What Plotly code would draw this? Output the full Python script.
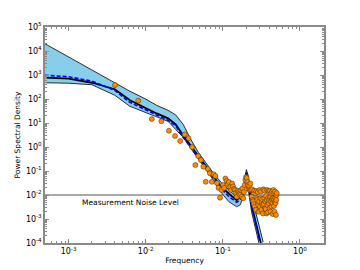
import numpy as np
import plotly.graph_objects as go

# ---- model curves (frequency grid and PSD values) ----
curve_freq = [4.9e-4, 0.001, 0.00201, 0.00397, 0.00625, 0.00985, 0.01387, 0.0195,
              0.0245, 0.0307, 0.0385, 0.0483, 0.0607, 0.0762, 0.0957, 0.120, 0.151,
              0.169, 0.189, 0.202, 0.212, 0.237, 0.266, 0.298, 0.333]
psd_upper = [20400, 5560, 1590, 454, 210, 102, 54.5, 33.7, 21.8, 8.7, 2.06, 0.589,
             0.204, 0.0778, 0.0327, 0.0167, 0.00809, 0.0113, 0.0297, 0.1146, 0.0706,
             0.00849, 0.0022, 0.000472, 0.000111]
psd_lower = [476, 454, 393, 143, 49.5, 27.8, 18.0, 11.7, 5.4, 2.5, 0.865, 0.330,
             0.1146, 0.0396, 0.0125, 0.00525, 0.00324, 0.00393, 0.0125, 0.0583, 0.0222,
             0.00182, 0.000389, 6.9e-5, 1.78e-5]
psd_median = [785, 700, 476, 255, 88, 41, 25, 15.6, 8.7, 3.0, 1.16, 0.44, 0.153,
              0.058, 0.0222, 0.0113, 0.00618, 0.00849, 0.0222, 0.0857, 0.0396,
              0.00357, 0.000841, 0.000163, 3.85e-5]
psd_mean = [981, 849, 551, 231, 72.8, 35.3, 21.8, 12.9, 7.6, 2.5, 0.953, 0.364,
            0.126, 0.048, 0.0184, 0.0085, 0.0050, 0.00636, 0.0167, 0.0778, 0.0327,
            0.00294, 0.000693, 0.000122, 2.88e-5]

# ---- periodogram points ----
obs_freq = [0.004, 0.008, 0.012, 0.016, 0.020, 0.024, 0.028, 0.032, 0.036, 0.040,
            0.044, 0.048, 0.052, 0.056, 0.060, 0.064, 0.068, 0.072, 0.076, 0.080,
            0.084, 0.088, 0.092, 0.096, 0.100, 0.104, 0.108, 0.112, 0.116, 0.120,
            0.124, 0.128, 0.132, 0.136, 0.140, 0.144, 0.148, 0.152, 0.156, 0.160,
            0.164, 0.168, 0.172, 0.176, 0.180, 0.184, 0.188, 0.192, 0.196, 0.200,
            0.204, 0.208, 0.212, 0.216, 0.220, 0.224, 0.228, 0.232, 0.236, 0.240,
            0.244, 0.248, 0.252, 0.256, 0.260, 0.264, 0.268, 0.272, 0.276, 0.280,
            0.284, 0.288, 0.292, 0.296, 0.300, 0.304, 0.308, 0.312, 0.316, 0.320,
            0.324, 0.328, 0.332, 0.336, 0.340, 0.344, 0.348, 0.352, 0.356, 0.360,
            0.364, 0.368, 0.372, 0.376, 0.380, 0.384, 0.388, 0.392, 0.396, 0.400,
            0.404, 0.408, 0.412, 0.416, 0.420, 0.424, 0.428, 0.432, 0.436, 0.440,
            0.444, 0.448, 0.452, 0.456, 0.460, 0.464, 0.468, 0.472, 0.476, 0.480,
            0.484, 0.488, 0.492, 0.496, 0.500]
obs_psd = [383, 85, 14.7, 11.8, 4.73, 2.87, 1.78, 3.32, 2.30, 1.0,
           0.178, 0.42, 0.287, 0.151, 0.0355, 0.121, 0.080, 0.0355, 0.073, 0.062,
           0.0316, 0.0196, 0.0077, 0.0162, 0.0261, 0.0196, 0.0487, 0.0383, 0.0287, 0.0348,
           0.0215, 0.0162, 0.030, 0.0226, 0.0178, 0.0162, 0.0121, 0.0085, 0.0151, 0.0133,
           0.011, 0.010, 0.0162, 0.0085, 0.0187, 0.0073, 0.0133, 0.0261, 0.0422, 0.0562,
           0.0511, 0.0348, 0.0261, 0.0178, 0.0237, 0.0162, 0.030, 0.0162, 0.0085, 0.0172,
           0.0062, 0.0054, 0.0041, 0.0151, 0.0033, 0.0118, 0.0024, 0.0147, 0.0073, 0.0062,
           0.0133, 0.0038, 0.0020, 0.0054, 0.0162, 0.0033, 0.0073, 0.0140, 0.0024, 0.0050,
           0.0067, 0.0038, 0.0017, 0.0172, 0.0042, 0.0073, 0.0151, 0.0028, 0.0054, 0.0026,
           0.0091, 0.0017, 0.0062, 0.0162, 0.0038, 0.0019, 0.0073, 0.0147, 0.0046, 0.0062,
           0.0028, 0.0151, 0.0083, 0.0020, 0.0054, 0.0118, 0.0033, 0.0068, 0.0140, 0.0046,
           0.0016, 0.0073, 0.0162, 0.0062, 0.0035, 0.0118, 0.0020, 0.0051, 0.0140, 0.0075,
           0.0046, 0.00147, 0.0062, 0.0100, 0.0121]

noise_level = 0.01
noise_x = [4.0e-4, 2.5]
noise_label = "Measurement Noise Level"
noise_label_pos = (0.0063, 0.0051)

x_tickvals = [1e-3, 1e-2, 1e-1, 1e0]
x_ticktext = ["10<sup>-3</sup>", "10<sup>-2</sup>", "10<sup>-1</sup>", "10<sup>0</sup>"]
y_tickvals = [1e-4, 1e-3, 1e-2, 1e-1, 1e0, 1e1, 1e2, 1e3, 1e4, 1e5]
y_ticktext = ["10<sup>-4</sup>", "10<sup>-3</sup>", "10<sup>-2</sup>", "10<sup>-1</sup>",
              "10<sup>0</sup>", "10<sup>1</sup>", "10<sup>2</sup>", "10<sup>3</sup>",
              "10<sup>4</sup>", "10<sup>5</sup>"]

x_range = (4.95e-4, 2.05)
y_range = (1e-4, 1e5)

FONT = "DejaVu Sans"
AXCOL = "#8a8a8a"

fig = go.Figure()

fig.add_trace(go.Scatter(x=noise_x, y=[noise_level, noise_level], mode="lines",
                         line=dict(color="#8c8c8c", width=1.6), showlegend=False,
                         hoverinfo="skip"))

fig.add_trace(go.Scatter(x=curve_freq, y=psd_lower, mode="lines",
                         line=dict(color="black", width=0.8), showlegend=False))
fig.add_trace(go.Scatter(x=curve_freq, y=psd_upper, mode="lines", fill="tonexty",
                         fillcolor="#87ceeb",
                         line=dict(color="black", width=0.8), showlegend=False))
fig.add_trace(go.Scatter(x=curve_freq, y=psd_median, mode="lines",
                         line=dict(color="black", width=1.8), showlegend=False))
fig.add_trace(go.Scatter(x=curve_freq, y=psd_mean, mode="lines",
                         line=dict(color="#0000ff", width=1.6, dash="4px,2px"),
                         showlegend=False))

fig.add_trace(go.Scatter(x=obs_freq, y=obs_psd, mode="markers",
                         marker=dict(color="#ff8c00", size=5,
                                     line=dict(color="#3a2a10", width=0.5)),
                         showlegend=False))

fig.add_annotation(x=np.log10(noise_label_pos[0]), y=np.log10(noise_label_pos[1]),
                   text=noise_label, showarrow=False, xanchor="center",
                   yanchor="middle", font=dict(family=FONT, size=7.5, color="black"))

axis_common = dict(type="log", showgrid=False, zeroline=False, showline=True,
                   linecolor=AXCOL, linewidth=1.5, mirror="ticks", ticks="inside",
                   ticklen=4, tickcolor=AXCOL, tickwidth=1, automargin=False,
                   tickfont=dict(family=FONT, size=8, color="black"),
                   minor=dict(ticks="inside", ticklen=2, tickcolor=AXCOL,
                              dtick="D1", showgrid=False))

fig.update_xaxes(**axis_common, range=[np.log10(x_range[0]), np.log10(x_range[1])],
                 tickmode="array", tickvals=x_tickvals, ticktext=x_ticktext,
                 title=dict(text="Frequency", standoff=2,
                            font=dict(family=FONT, size=7.5, color="black")))
fig.update_yaxes(**axis_common, range=[np.log10(y_range[0]), np.log10(y_range[1])],
                 tickmode="array", tickvals=y_tickvals, ticktext=y_ticktext,
                 title=dict(text="Power Spectral Density", standoff=4,
                            font=dict(family=FONT, size=7.5, color="black")))

# page body has an 8px margin, so the figure is shifted by 8px
fig.update_layout(width=352, height=262, margin=dict(l=37, r=36, t=19, b=27),
                  plot_bgcolor="white", paper_bgcolor="white",
                  font=dict(family=FONT))

fig.write_html("out.html")
